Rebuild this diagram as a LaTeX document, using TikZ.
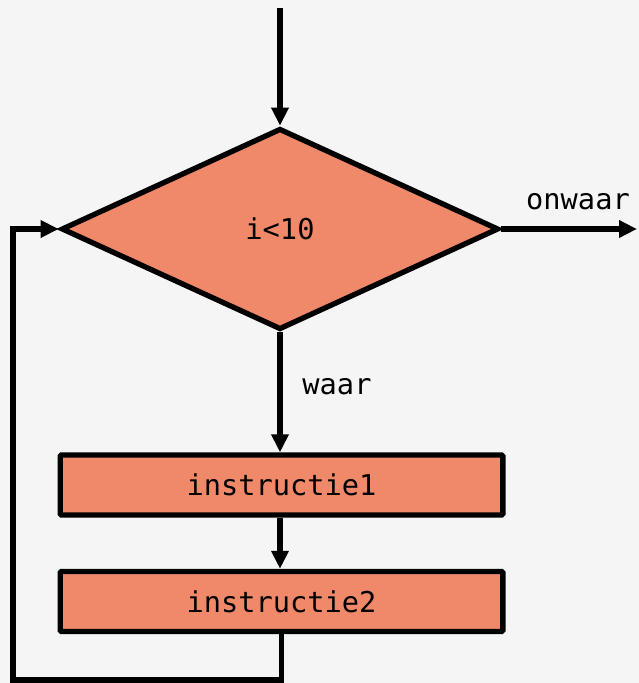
\documentclass[tikz,border=0pt]{standalone}
\usepackage{fontspec}
\setmonofont{DejaVu Sans Mono}
\usetikzlibrary{shapes.geometric,arrows.meta}

\definecolor{salmon}{RGB}{240,137,106}
\definecolor{paper}{RGB}{245,245,245}

\tikzset{
    flow/.style={line width=4pt, -{Triangle[length=13.5pt,width=12.5pt]}},
    decision/.style={diamond, draw, line width=4pt, fill=salmon, inner sep=0pt,
        minimum width=328pt, minimum height=151pt, font=\ttfamily\fontsize{21.5}{24}\selectfont},
    block/.style={rectangle, draw, line width=4pt, fill=salmon, rounded corners=1pt,
        minimum width=332pt, minimum height=45pt, font=\ttfamily\fontsize{21.5}{24}\selectfont},
    lbl/.style={font=\ttfamily\fontsize{21.5}{24}\selectfont}
}

\begin{document}
\begin{tikzpicture}[x=0.75pt,y=-0.75pt]
    % background and page size
    \fill[paper] (0,0) rectangle (639,683);
    \useasboundingbox (0,0) rectangle (639,683);

    \coordinate (start) at (280,8);
    \coordinate (exit) at (637,229);
    \coordinate (back) at (13,680);

    \node[decision] (cond) at (280,229) {i<10};
    \node[block] (instr1) at (281.5,485) {instructie1};
    \node[block] (instr2) at (281.5,601.5) {instructie2};

    \draw[flow] (start) -- (cond.north);
    \draw[flow] (cond.east) -- (exit);
    \draw[flow] (cond.south) -- (cond.south |- instr1.north);
    \draw[flow] (cond.south |- instr1.south) -- (cond.south |- instr2.north);
    \draw[flow] (instr2.south) |- (back) |- (cond.west); % loop back

    \node[lbl] (no) at (578,202) {onwaar};
    \node[lbl] (yes) at (337,387) {waar};
\end{tikzpicture}
\end{document}
